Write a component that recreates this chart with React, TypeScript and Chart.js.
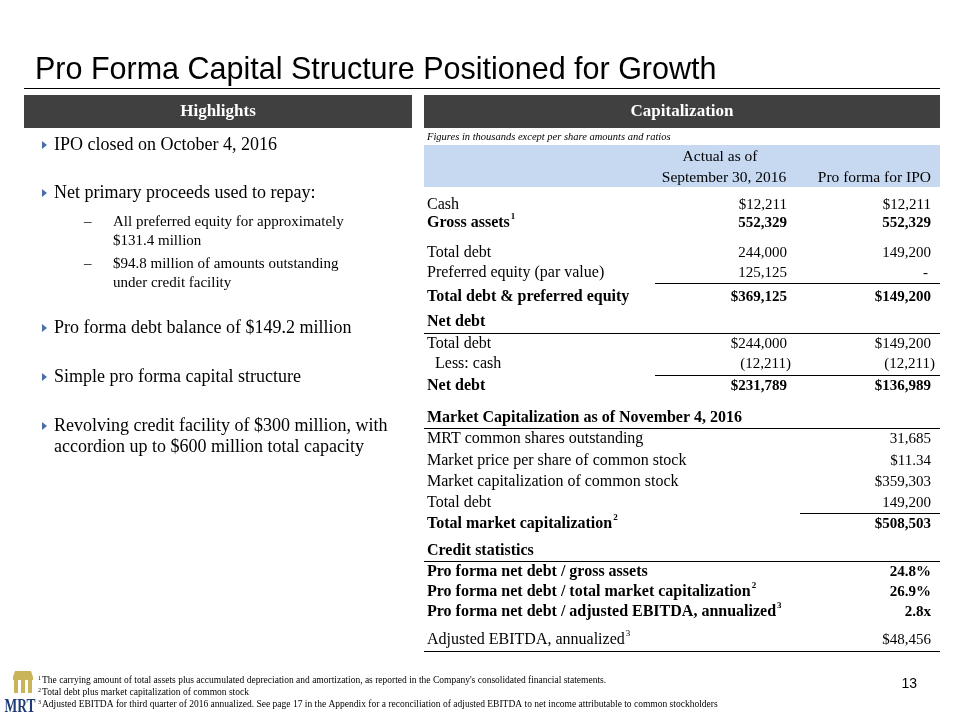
import React, { useEffect, useRef } from "react";
import { Chart, registerables } from "chart.js";

Chart.register(...registerables);

// ---------- DATA ----------
const slideTitle = "Pro Forma Capital Structure Positioned for Growth";
const leftHeader = "Highlights";
const rightHeader = "Capitalization";
const unitsNote = "Figures in thousands except per share amounts and ratios";
const columnHeaders = ["Actual as of", "September 30, 2016", "Pro forma for IPO"];

const highlightBullets = [
  ["IPO closed on October 4, 2016"],
  ["Net primary proceeds used to repay:"],
  ["Pro forma debt balance of $149.2 million"],
  ["Simple pro forma capital structure"],
  ["Revolving credit facility of $300 million, with", "accordion up to $600 million total capacity"],
];
const highlightSubBullets = [
  ["All preferred equity for approximately", "$131.4 million"],
  ["$94.8 million of amounts outstanding", "under credit facility"],
];

const capLabels = ["Cash", "Gross assets", "Total debt", "Preferred equity (par value)", "Total debt & preferred equity"];
const capActual = ["$12,211", "552,329", "244,000", "125,125", "$369,125"];
const capProForma = ["$12,211", "552,329", "149,200", "-", "$149,200"];
const capBold = [false, true, false, false, true];
const capSup = ["", "1", "", "", ""];

const netDebtTitle = "Net debt";
const netDebtLabels = ["Total debt", "  Less: cash", "Net debt"];
const netDebtActual = ["$244,000", "(12,211)", "$231,789"];
const netDebtProForma = ["$149,200", "(12,211)", "$136,989"];
const netDebtBold = [false, false, true];

const marketTitle = "Market Capitalization as of November 4, 2016";
const marketLabels = [
  "MRT common shares outstanding",
  "Market price per share of common stock",
  "Market capitalization of common stock",
  "Total debt",
  "Total market capitalization",
];
const marketValues = ["31,685", "$11.34", "$359,303", "149,200", "$508,503"];
const marketBold = [false, false, false, false, true];
const marketSup = ["", "", "", "", "2"];

const creditTitle = "Credit statistics";
const creditLabels = [
  "Pro forma net debt / gross assets",
  "Pro forma net debt / total market capitalization",
  "Pro forma net debt / adjusted EBITDA, annualized",
  "Adjusted EBITDA, annualized",
];
const creditValues = ["24.8%", "26.9%", "2.8x", "$48,456"];
const creditBold = [true, true, true, false];
const creditSup = ["", "2", "3", "3"];

const footnotes = [
  ["1", "The carrying amount of total assets plus accumulated depreciation and amortization, as reported in the Company's consolidated financial statements."],
  ["2", "Total debt plus market capitalization of common stock"],
  ["3", "Adjusted EBITDA for third quarter of 2016 annualized. See page 17 in the Appendix for a reconciliation of adjusted EBITDA to net income attributable to common stockholders"],
];
const pageNumber = "13";
const logoText = "MRT";

// ---------- LAYOUT / STYLE ----------
const SERIF = '"Liberation Serif", "Times New Roman", serif';
const SANS = '"Liberation Sans", Arial, sans-serif';
const DARK = "#404040";
const BAND = "#C6D9F1";
const BULLET = "#4A6FA5";

const L = {
  col1Right: 787,
  col2Right: 931,
  labelX: 427,
  bulletY: [145, 193, 328, 377, 426],
  bulletLineH: 21,
  subY: [222, 264],
  subLineH: 19,
  capY: [205, 223, 253, 273, 297],
  capLineY: 283,
  netTitleY: 322,
  netLineY: 333,
  netY: [344, 364, 386],
  netSumLineY: 375,
  mktTitleY: 418,
  mktLineY: 428,
  mktY: [439, 461, 482, 503, 524],
  mktSumLineY: 513,
  crTitleY: 551,
  crLineY: 561,
  crY: [572, 592, 612, 640],
  crEndLineY: 651,
  footY: [680, 692, 704],
};

const slidePlugin = {
  id: "slide",
  afterDraw(chart: any) {
    const ctx: CanvasRenderingContext2D = chart.ctx;
    const sx = chart.scales.x;
    const sy = chart.scales.y;
    const X = (v: number) => sx.getPixelForValue(v);
    const Y = (v: number) => sy.getPixelForValue(v);

    const text = (s: string, x: number, y: number, font: string, opts: any = {}) => {
      ctx.save();
      ctx.font = font;
      ctx.fillStyle = opts.color || "#000";
      ctx.textAlign = opts.align || "left";
      ctx.textBaseline = opts.baseline || "middle";
      if (opts.maxWidth) ctx.fillText(s, X(x), Y(y), opts.maxWidth);
      else ctx.fillText(s, X(x), Y(y));
      const w = ctx.measureText(s).width;
      ctx.restore();
      return w;
    };
    const hline = (x1: number, x2: number, y: number, w = 1, color = "#000") => {
      ctx.save();
      ctx.strokeStyle = color;
      ctx.lineWidth = w;
      ctx.beginPath();
      ctx.moveTo(X(x1), Y(y) + 0.5);
      ctx.lineTo(X(x2), Y(y) + 0.5);
      ctx.stroke();
      ctx.restore();
    };
    const rect = (x: number, y: number, w: number, h: number, color: string) => {
      ctx.save();
      ctx.fillStyle = color;
      ctx.fillRect(X(x), Y(y), X(x + w) - X(x), Y(y + h) - Y(y));
      ctx.restore();
    };
    const rowFont = (bold: boolean) => `${bold ? "bold " : ""}16px ${SERIF}`;
    const valFont = (bold: boolean) => `${bold ? "bold " : ""}15px ${SERIF}`;
    const label = (s: string, y: number, bold: boolean, sup = "") => {
      const w = text(s, L.labelX, y, rowFont(bold));
      if (sup) text(sup, L.labelX + w + 1, y - 6, `${bold ? "bold " : ""}9px ${SERIF}`);
    };

    // title
    text(slideTitle, 35, 79, `30.5px ${SANS}`, { baseline: "alphabetic" });
    hline(24, 940, 88, 1.2);

    // headers
    rect(24, 95, 388, 33, DARK);
    rect(424, 95, 516, 33, DARK);
    text(leftHeader, 218, 112, `bold 17px ${SERIF}`, { color: "#fff", align: "center" });
    text(rightHeader, 682, 112, `bold 17px ${SERIF}`, { color: "#fff", align: "center" });

    // highlights
    highlightBullets.forEach((lines, i) => {
      const y = L.bulletY[i];
      ctx.save();
      ctx.fillStyle = BULLET;
      ctx.beginPath();
      ctx.moveTo(X(42), Y(y - 4));
      ctx.lineTo(X(47), Y(y));
      ctx.lineTo(X(42), Y(y + 4));
      ctx.closePath();
      ctx.fill();
      ctx.restore();
      lines.forEach((ln, j) => text(ln, 54, y + j * L.bulletLineH, `18px ${SERIF}`));
    });
    highlightSubBullets.forEach((lines, i) => {
      const y = L.subY[i];
      text("\u2013", 84, y, `15px ${SERIF}`);
      lines.forEach((ln, j) => text(ln, 113, y + j * L.subLineH, `15px ${SERIF}`));
    });

    // capitalization
    text(unitsNote, 427, 137, `italic 10.5px ${SERIF}`);
    rect(424, 145, 516, 42, BAND);
    text(columnHeaders[0], 720, 157, `15.5px ${SERIF}`, { align: "center" });
    text(columnHeaders[1], 724, 178, `15.5px ${SERIF}`, { align: "center" });
    text(columnHeaders[2], L.col2Right, 178, `15.5px ${SERIF}`, { align: "right" });

    capLabels.forEach((lab, i) => {
      const y = L.capY[i];
      label(lab, y, capBold[i], capSup[i]);
      text(capActual[i], L.col1Right, y, valFont(capBold[i]), { align: "right" });
      const pf = capProForma[i];
      text(pf, pf === "-" ? L.col2Right - 3 : L.col2Right, y, valFont(capBold[i]), { align: "right" });
    });
    hline(655, 940, L.capLineY);

    label(netDebtTitle, L.netTitleY, true);
    hline(424, 940, L.netLineY);
    netDebtLabels.forEach((lab, i) => {
      const y = L.netY[i];
      const paren = netDebtActual[i].endsWith(")");
      label(lab, y, netDebtBold[i]);
      text(netDebtActual[i], L.col1Right + (paren ? 4 : 0), y, valFont(netDebtBold[i]), { align: "right" });
      text(netDebtProForma[i], L.col2Right + (paren ? 4 : 0), y, valFont(netDebtBold[i]), { align: "right" });
    });
    hline(655, 940, L.netSumLineY);

    label(marketTitle, L.mktTitleY, true);
    hline(424, 940, L.mktLineY);
    marketLabels.forEach((lab, i) => {
      const y = L.mktY[i];
      label(lab, y, marketBold[i], marketSup[i]);
      text(marketValues[i], L.col2Right, y, valFont(marketBold[i]), { align: "right" });
    });
    hline(800, 940, L.mktSumLineY);

    label(creditTitle, L.crTitleY, true);
    hline(424, 940, L.crLineY);
    creditLabels.forEach((lab, i) => {
      const y = L.crY[i];
      label(lab, y, creditBold[i], creditSup[i]);
      text(creditValues[i], L.col2Right, y, valFont(creditBold[i]), { align: "right" });
    });
    hline(424, 940, L.crEndLineY);

    // footnotes
    footnotes.forEach(([n, s], i) => {
      const y = L.footY[i];
      text(n, 38, y - 2, `6px ${SERIF}`);
      text(s, 42, y, `9.5px ${SERIF}`);
    });
    text(pageNumber, 917, 684, `14px ${SANS}`, { align: "right" });

    // logo
    ctx.save();
    ctx.fillStyle = "#C9B45A";
    ctx.beginPath();
    ctx.moveTo(X(15), Y(671));
    ctx.lineTo(X(31), Y(671));
    ctx.lineTo(X(33), Y(677));
    ctx.lineTo(X(13), Y(677));
    ctx.closePath();
    ctx.fill();
    ctx.fillRect(X(13), Y(677), 20, 3);
    [14, 21, 28].forEach((cx) => ctx.fillRect(X(cx), Y(680), 4, 13));
    ctx.restore();
    text(logoText, 20, 707, `bold 18px ${SERIF}`, { color: "#1F3C78", align: "center", maxWidth: 31 });
  },
};

export default function App() {
  const ref = useRef<HTMLCanvasElement | null>(null);
  useEffect(() => {
    if (!ref.current) return;
    const chart = new Chart(ref.current, {
      type: "scatter",
      data: { datasets: [{ data: [], pointRadius: 0 }] },
      options: {
        animation: false,
        responsive: false,
        events: [],
        layout: { padding: 0 },
        plugins: { legend: { display: false }, tooltip: { enabled: false }, title: { display: false } },
        scales: {
          x: { type: "linear", display: false, min: 0, max: 960 },
          y: { type: "linear", display: false, min: 0, max: 720, reverse: true },
        },
      },
      plugins: [
        {
          id: "bg",
          beforeDraw(c: any) {
            c.ctx.save();
            c.ctx.fillStyle = "#fff";
            c.ctx.fillRect(0, 0, c.width, c.height);
            c.ctx.restore();
          },
        },
        slidePlugin,
      ],
    } as any);
    return () => chart.destroy();
  }, []);
  return (
    <div style={{ position: "absolute", left: 0, top: 0, width: 960, height: 720, background: "#fff" }}>
      <canvas ref={ref} width={960} height={720} style={{ display: "block", width: 960, height: 720 }} />
    </div>
  );
}
